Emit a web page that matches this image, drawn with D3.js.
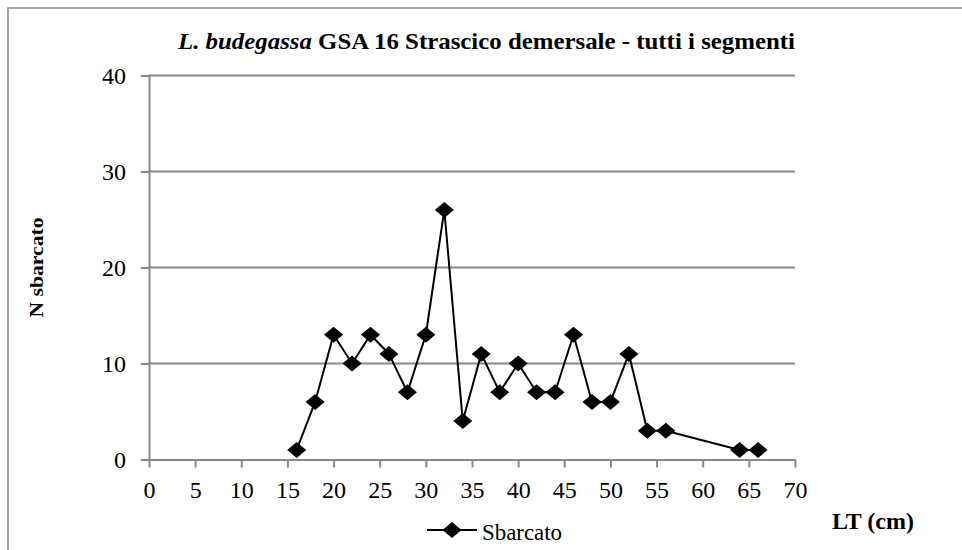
<!DOCTYPE html>
<html>
<head>
<meta charset="utf-8">
<script src="https://cdn.jsdelivr.net/npm/d3@7"></script>
<style>
  body { margin: 0; background: #fff; }
</style>
</head>
<body>
<div id="vis"></div>
<script>
// Data
var lengths = [16, 18, 20, 22, 24, 26, 28, 30, 32, 34, 36, 38, 40, 42, 44, 46, 48, 50, 52, 54, 56, 64, 66];
var landed = [1, 6, 13, 10, 13, 11, 7, 13, 26, 4, 11, 7, 10, 7, 7, 13, 6, 6, 11, 3, 3, 1, 1];
var xTicks = [0, 5, 10, 15, 20, 25, 30, 35, 40, 45, 50, 55, 60, 65, 70];
var yTicks = [0, 10, 20, 30, 40];

var serif = '"Liberation Serif"';

var margin = { left: 149, top: 75.5, right: 167, bottom: 90.5 };
var width = 962 - margin.left - margin.right;
var height = 550 - margin.top - margin.bottom;
var axisColor = '#888888';

var svg = d3.select('#vis').append('svg')
    .attr('width', 962)
    .attr('height', 550);

// outer frame of the chart (cut off at right and bottom)
svg.append('rect')
    .attr('x', 8).attr('y', 8)
    .attr('width', 1000).attr('height', 600)
    .attr('fill', 'none')
    .attr('stroke', axisColor)
    .attr('stroke-width', 1.5);

var g = svg.append('g')
    .attr('transform', 'translate(' + margin.left + ',' + margin.top + ')');

var xScale = d3.scaleLinear().domain([0, 70]).range([0, width]);
var yScale = d3.scaleLinear().domain([0, 40]).range([height, 0]);

// horizontal gridlines
g.selectAll('.grid').data(yTicks.slice(1)).enter().append('line')
    .attr('class', 'grid')
    .attr('x1', 0).attr('x2', width)
    .attr('y1', function(d) { return yScale(d); })
    .attr('y2', function(d) { return yScale(d); })
    .attr('stroke', axisColor)
    .attr('stroke-width', 2);

// axes
var xAxis = d3.axisBottom(xScale).tickValues(xTicks).tickSize(8).tickPadding(13).tickSizeOuter(0);
var yAxis = d3.axisLeft(yScale).tickValues(yTicks).tickSize(8).tickPadding(15).tickSizeOuter(0);

var xg = g.append('g').attr('transform', 'translate(0,' + height + ')').call(xAxis);
var yg = g.append('g').call(yAxis);

[xg, yg].forEach(function(a) {
    a.selectAll('path, line').attr('stroke', axisColor).attr('stroke-width', 2);
    a.selectAll('text')
        .style('font-family', serif)
        .style('font-size', '24px')
        .attr('fill', '#000');
});

// series line
var line = d3.line()
    .x(function(d, i) { return xScale(lengths[i]); })
    .y(function(d) { return yScale(d); });

g.append('path')
    .datum(landed)
    .attr('d', line)
    .attr('fill', 'none')
    .attr('stroke', '#000')
    .attr('stroke-width', 2);

// diamond marker shape, a bit wider than tall like in the picture
var diamond = 'M0,-8L9.5,0L0,8L-9.5,0Z';
g.selectAll('.marker').data(landed).enter().append('path')
    .attr('class', 'marker')
    .attr('d', diamond)
    .attr('transform', function(d, i) {
        return 'translate(' + xScale(lengths[i]) + ',' + yScale(d) + ')';
    })
    .attr('fill', '#000');

// title
var title = svg.append('text')
    .attr('x', 178).attr('y', 49)
    .style('font-family', serif)
    .style('font-size', '24px')
    .style('font-weight', 'bold')
    .attr('textLength', 617)
    .attr('lengthAdjust', 'spacingAndGlyphs');
title.append('tspan').style('font-style', 'italic').text('L. budegassa');
title.append('tspan').text(' GSA 16 Strascico demersale - tutti i segmenti');

// y-axis title
svg.append('text')
    .attr('transform', 'translate(43,' + (margin.top + height / 2) + ') rotate(-90)')
    .attr('text-anchor', 'middle')
    .style('font-family', serif)
    .style('font-size', '19px')
    .style('font-weight', 'bold')
    .attr('textLength', 100)
    .attr('lengthAdjust', 'spacingAndGlyphs')
    .text('N sbarcato');

// x-axis title
svg.append('text')
    .attr('x', 832).attr('y', 529)
    .style('font-family', serif)
    .style('font-size', '24px')
    .style('font-weight', 'bold')
    .attr('textLength', 82)
    .attr('lengthAdjust', 'spacingAndGlyphs')
    .text('LT (cm)');

// legend
var legend = svg.append('g').attr('transform', 'translate(427,530)');
legend.append('line')
    .attr('x1', 0).attr('x2', 50)
    .attr('y1', 0).attr('y2', 0)
    .attr('stroke', '#000').attr('stroke-width', 2);
legend.append('path')
    .attr('d', diamond)
    .attr('transform', 'translate(25,0)')
    .attr('fill', '#000');
legend.append('text')
    .attr('x', 55).attr('y', 10)
    .style('font-family', serif)
    .style('font-size', '24px')
    .attr('textLength', 80)
    .attr('lengthAdjust', 'spacingAndGlyphs')
    .text('Sbarcato');
</script>
</body>
</html>
